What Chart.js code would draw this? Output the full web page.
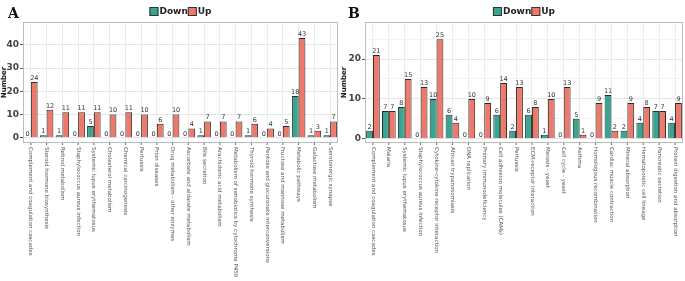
<!DOCTYPE html>
<html>
<head>
<meta charset="utf-8">
<script src="https://cdn.jsdelivr.net/npm/chart.js@4"></script>
<style>
  body { margin: 0; background: #fff; }
  #wrap { position: relative; width: 685px; height: 281px; }
  canvas { position: absolute; top: 0; }
</style>
</head>
<body>
<div id="wrap">
  <canvas id="chart_a" width="340" height="281" style="left:0"></canvas>
  <canvas id="chart_b" width="345" height="281" style="left:340px"></canvas>
</div>
<script>
// painel A
const labelsA = [
  'Complement and coagulation cascades', 'Steroid hormone biosynthesis', 'Retinol metabolism',
  'Staphylococcus aureus infection', 'Systemic lupus erythematosus', 'Cholesterol metabolism',
  'Chemical carcinogenesis', 'Pertussis', 'Prion diseases', 'Drug metabolism - other enzymes',
  'Ascorbate and aldarate metabolism', 'Bile secretion', 'Arachidonic acid metabolism',
  'Metabolism of xenobiotics by cytochrome P450', 'Thyroid hormone synthesis',
  'Pentose and glucuronate interconversions', 'Fructose and mannose metabolism',
  'Metabolic pathways', 'Galactose metabolism', 'Serotonergic synapse'
];
const downA = [0, 1, 1, 0, 5, 0, 0, 0, 0, 0, 0, 1, 0, 0, 1, 0, 0, 18, 1, 1];
const upA = [24, 12, 11, 11, 11, 10, 11, 10, 6, 10, 4, 7, 7, 7, 6, 4, 5, 43, 3, 7];

// painel B
const labelsB = [
  'Complement and coagulation cascades', 'Malaria', 'Systemic lupus erythematosus',
  'Staphylococcus aureus infection', 'Cytokine-cytokine receptor interaction',
  'African trypanosomiasis', 'DNA replication', 'Primary immunodeficiency',
  'Cell adhesion molecules (CAMs)', 'Pertussis', 'ECM-receptor interaction', 'Meiosis - yeast',
  'Cell cycle - yeast', 'Asthma', 'Homologous recombination', 'Cardiac muscle contraction',
  'Mineral absorption', 'Hematopoietic cell lineage', 'Pancreatic secretion',
  'Protein digestion and absorption'
];
const downB = [2, 7, 8, 0, 10, 6, 0, 0, 6, 2, 6, 1, 0, 5, 0, 11, 2, 4, 7, 4];
const upB = [21, 7, 15, 13, 25, 4, 10, 9, 14, 13, 8, 10, 13, 1, 9, 2, 9, 8, 7, 9];

const corDown = '#36a690';
const corUp = '#ee786a';

// desenha borda, rotulos do eixo x, valores, legenda e letra do painel
const desenho = {
  id: 'desenho',
  afterDraw(chart, args, opts) {
    const ctx = chart.ctx;
    const area = chart.chartArea;
    const eixoX = chart.scales.x;
    ctx.save();

    ctx.strokeStyle = '#bdbdbd';
    ctx.lineWidth = 1;
    ctx.strokeRect(area.left + 0.5, area.top + 0.5, area.right - area.left - 1, area.bottom - area.top - 1);

    ctx.font = '5.5px "DejaVu Sans"';
    ctx.fillStyle = '#555';
    ctx.textAlign = 'left';
    ctx.textBaseline = 'middle';
    chart.data.labels.forEach((lab, i) => {
      const px = eixoX.getPixelForValue(i);
      ctx.strokeStyle = '#666';
      ctx.beginPath();
      ctx.moveTo(px, area.bottom);
      ctx.lineTo(px, area.bottom + 2);
      ctx.stroke();
      ctx.save();
      ctx.translate(px, area.bottom + 4);
      ctx.rotate(Math.PI / 2);
      ctx.fillText(lab, 0, 0);
      ctx.restore();
    });

    ctx.font = '6.5px "DejaVu Sans"';
    ctx.fillStyle = '#333';
    ctx.textAlign = 'center';
    ctx.textBaseline = 'bottom';
    chart.data.datasets.forEach((ds, d) => {
      chart.getDatasetMeta(d).data.forEach((bar, i) => {
        ctx.fillText(ds.data[i], bar.x, bar.y - 0.5);
      });
    });

    // legenda
    ctx.font = 'bold 9px "DejaVu Sans"';
    ctx.textAlign = 'left';
    ctx.textBaseline = 'middle';
    const caixa = 9;
    const wDown = ctx.measureText('Down').width;
    const wUp = ctx.measureText('Up').width;
    const total = caixa + 1 + wDown + caixa + 1 + wUp;
    let lx = (area.left + area.right) / 2 - total / 2;
    const ly = 7;
    [[corDown, 'Down', wDown], [corUp, 'Up', wUp]].forEach(([cor, txt, w]) => {
      ctx.fillStyle = cor;
      ctx.fillRect(lx, ly, caixa, caixa);
      ctx.strokeStyle = '#333';
      ctx.strokeRect(lx + 0.5, ly + 0.5, caixa - 1, caixa - 1);
      ctx.fillStyle = '#222';
      ctx.fillText(txt, lx + caixa + 1, ly + caixa / 2 + 0.5);
      lx += caixa + 1 + w;
    });

    ctx.font = 'bold 14px "DejaVu Serif"';
    ctx.fillStyle = '#111';
    ctx.textBaseline = 'alphabetic';
    ctx.fillText(opts.letra, 8, 18);

    ctx.restore();
  }
};

function painel(id, letra, labels, down, up, yMin, yMax, larguraY) {
  return new Chart(document.getElementById(id), {
    type: 'bar',
    data: {
      labels: labels,
      datasets: [
        { label: 'Down', data: down, backgroundColor: corDown, borderColor: '#2b2b2b', borderWidth: 1 },
        { label: 'Up', data: up, backgroundColor: corUp, borderColor: '#2b2b2b', borderWidth: 1 }
      ]
    },
    plugins: [desenho],
    options: {
      responsive: false,
      animation: false,
      devicePixelRatio: 1,
      categoryPercentage: 0.86,
      barPercentage: 1,
      layout: { padding: { top: 22, right: 2, bottom: 138, left: 0 } },
      scales: {
        x: {
          ticks: { display: false },
          grid: { drawTicks: false, offset: false, color: '#ececec' },
          border: { display: false }
        },
        y: {
          min: yMin,
          max: yMax,
          afterFit(scale) { scale.width = larguraY; },
          ticks: {
            stepSize: 5,
            includeBounds: false,
            padding: 1,
            color: '#444',
            font: { family: 'DejaVu Sans', size: 9, weight: 'bold' },
            callback: v => (v % 10 === 0 ? v : '')
          },
          grid: {
            tickLength: 3,
            color: c => (c.tick && c.tick.value % 10 === 0 ? '#e6e6e6' : '#f3f3f3'),
            tickColor: c => (c.tick && c.tick.value % 10 === 0 ? '#555' : 'rgba(0,0,0,0)')
          },
          border: { display: false },
          title: {
            display: true,
            text: 'Number',
            color: '#111',
            padding: 0,
            font: { family: 'DejaVu Sans', size: 7, weight: 'bold' }
          }
        }
      },
      plugins: {
        legend: { display: false },
        tooltip: { enabled: false },
        desenho: { letra: letra }
      }
    }
  });
}

painel('chart_a', 'A', labelsA, downA, upA, -2.3, 49.9, 23);
painel('chart_b', 'B', labelsB, downB, upB, -1.06, 29.3, 25);
</script>
</body>
</html>
